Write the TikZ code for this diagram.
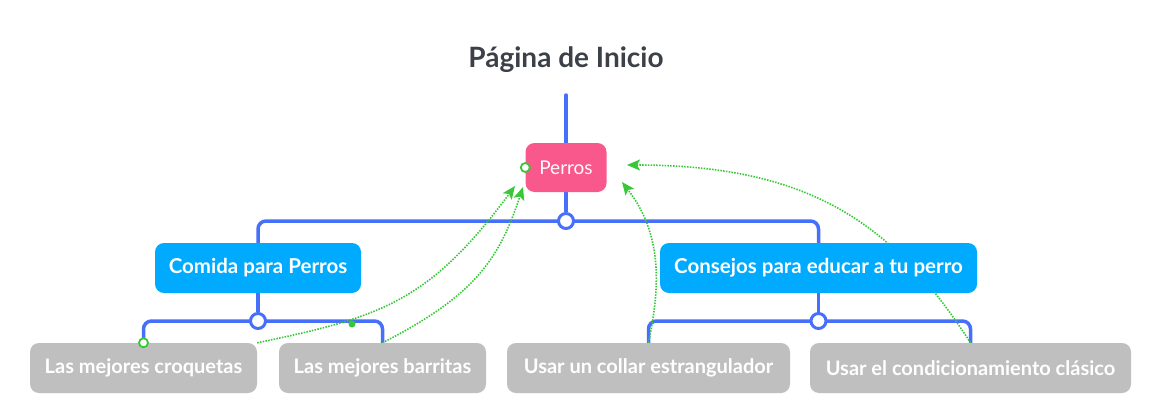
\documentclass[tikz,border=0pt]{standalone}
\usepackage{fontspec}
\setmainfont{Lato}
\usetikzlibrary{arrows.meta,positioning}
\pgfdeclarelayer{background}
\pgfsetlayers{background,main}
\definecolor{titlegray}{RGB}{60,64,72}
\definecolor{linkblue}{RGB}{70,112,250}
\definecolor{rootpink}{RGB}{249,88,140}
\definecolor{topicblue}{RGB}{0,170,255}
\definecolor{leafgray}{RGB}{191,191,191}
\definecolor{relgreen}{RGB}{55,200,55}

\begin{document}
\begin{tikzpicture}[x=1pt,y=-1pt,
  root/.style={rectangle,rounded corners=9pt,fill=rootpink,text=white,
    minimum height=49pt,font=\fontsize{19}{22}\selectfont},
  topic/.style={rectangle,rounded corners=9pt,fill=topicblue,text=white,
    minimum height=50pt,font=\bfseries\fontsize{20.5}{24}\selectfont},
  leaf/.style={rectangle,rounded corners=9pt,fill=leafgray,text=white,
    minimum height=50pt,font=\bfseries\fontsize{20}{24}\selectfont},
  hub/.style={circle,draw=linkblue,line width=3pt,fill=white,
    minimum size=15pt,inner sep=0pt},
  branch/.style={draw=linkblue,line width=3.5pt,rounded corners=8pt},
  relation/.style={draw=relgreen,line width=1.6pt,dash pattern=on 1.5pt off 1.3pt,
    -{Stealth[length=13pt,width=11pt,inset=3pt]}},
  handle/.style={circle,draw=relgreen,line width=1.8pt,fill=white,
    minimum size=9pt,inner sep=0pt},
  knob/.style={circle,fill=relgreen,minimum size=7pt,inner sep=0pt}]
  \useasboundingbox (0,0) rectangle (1154,420);

  \node[text=titlegray,font=\bfseries\fontsize{28}{32}\selectfont] (title) at (566,60) {Página de Inicio};
  \node[root,minimum width=81pt] (node1) at (566,167.5) {Perros};
  \node[topic,minimum width=206pt] (node2) at (258,268) {Comida para Perros};
  \node[topic,minimum width=317pt] (node3) at (818.5,268) {Consejos para educar a tu perro};
  \node[leaf,minimum width=227pt] (node4) at (143.5,368) {Las mejores croquetas};
  \node[leaf,minimum width=207pt] (node5) at (382.5,368) {Las mejores barritas};
  \node[leaf,minimum width=283pt] (node6) at (648.5,368) {Usar un collar estrangulador};
  \node[leaf,minimum width=321pt] (node7) at (970.5,368) {Usar el condicionamiento clásico};
  \node[hub] (hub1) at (566,221) {};
  \node[hub] (hub2) at (258,321) {};
  \node[hub] (hub3) at (818.5,321) {};
  \coordinate (top) at (566,95);
  \coordinate (tip1) at (515,186);
  \coordinate (tip2) at (523,187);
  \coordinate (tip3) at (622,182);
  \coordinate (tip4) at (627,165);

  \begin{pgfonlayer}{background}
    \fill[white] (0,0) rectangle (1154,420);
    \draw[branch,line cap=round] (top) -- (node1.north);
    \draw[branch] (node1.south) -- (hub1);
    \draw[branch] (node2.north) -- (node2.north |- hub1) -- (node3.north |- hub1) -- (node3.north);
    \draw[branch] (node2.south) -- (hub2);
    \draw[branch] (node4.north) -- (node4.north |- hub2) -- (node5.north |- hub2) -- (node5.north);
    \draw[branch] (node3.south) -- (hub3);
    \draw[branch] (node6.north) -- (node6.north |- hub3) -- (node7.north |- hub3) -- (node7.north);

    \draw[relation] (node4.north east) .. controls (381,317) and (429,302) .. (tip1);
    \draw[relation] (node5.north) .. controls (474,296) and (499,260) .. (tip2);
    \draw[relation] (node6.north) .. controls (660,288) and (663,235) .. (tip3);
    \draw[relation] (node7.north) .. controls (895,226) and (813,165) .. (tip4);
  \end{pgfonlayer}

  \node[handle] (mark1) at (node1.west) {};
  \node[handle] (mark2) at (node4.north) {};
  \node[knob] (mark3) at (352,324) {};
\end{tikzpicture}
\end{document}
